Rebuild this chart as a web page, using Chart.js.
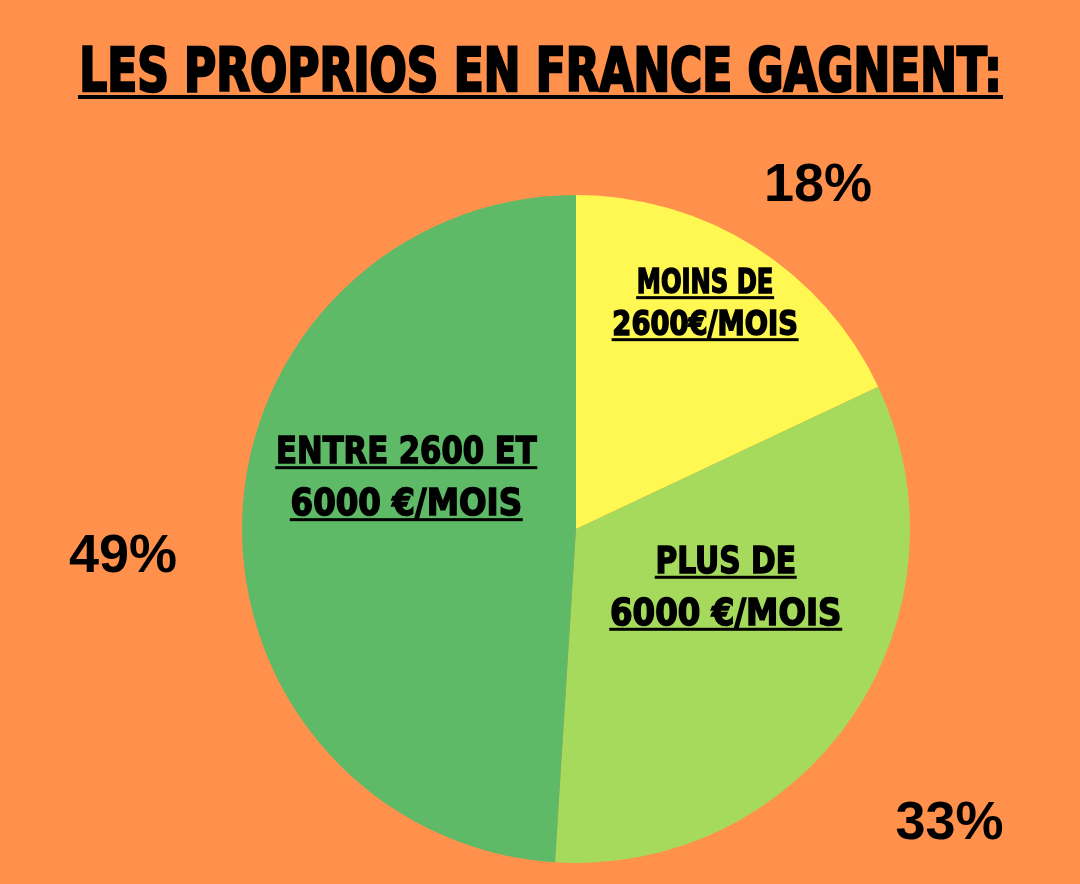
<!DOCTYPE html>
<html>
<head>
<meta charset="utf-8">
<script src="https://cdn.jsdelivr.net/npm/chart.js@4"></script>
<style>
  html, body { margin: 0; padding: 0; background: #FF914D; }
  #wrap { width: 1080px; height: 884px; position: relative; }
</style>
</head>
<body>
<div id="wrap"><canvas id="pie"></canvas></div>
<script>
// data
const titleText = "LES PROPRIOS EN FRANCE GAGNENT:";
const categories = [
  ["MOINS DE", "2600€/MOIS"],
  ["PLUS DE", "6000 €/MOIS"],
  ["ENTRE 2600 ET", "6000 €/MOIS"]
];
const shares = [18, 33, 49];
const sliceColors = ['#FFF852', '#A6DA5C', '#5EBA67'];

// where the texts sit relative to each slice (radius factor, angle shift in deg)
const innerLayout = [
  { r: 0.805, da: -3.7, size: 33, gap: 42, widths: [138, 187] },
  { r: 0.467, da: -17.9, size: 38, gap: 52, widths: [142, 233] },
  { r: 0.545, da: 19.4, size: 38, gap: 52, widths: [262, 233] }
];
const outerLayout = [
  { r: 1.257, da: 2.8 },
  { r: 1.425, da: 4.1 },
  { r: 1.359, da: -5.3 }
];

const blockFont = "'DejaVu Sans Condensed', 'DejaVu Sans', sans-serif";

function fitText(ctx, text, cx, baseY, size, width, lineW, heavy) {
  ctx.save();
  ctx.font = `bold ${size}px ${blockFont}`;
  const w = ctx.measureText(text).width;
  const sx = (width - heavy) / w;
  ctx.translate(cx, baseY);
  ctx.scale(sx, 1);
  ctx.textAlign = 'center';
  ctx.textBaseline = 'alphabetic';
  ctx.fillStyle = '#000';
  ctx.strokeStyle = '#000';
  ctx.lineJoin = 'miter';
  ctx.lineWidth = heavy;
  ctx.fillText(text, 0, 0);
  ctx.strokeText(text, 0, 0);
  ctx.restore();
  ctx.fillStyle = '#000';
  ctx.fillRect(cx - width / 2, baseY + lineW + 0.5, width, lineW + 0.5);
}

const labelPlugin = {
  id: 'labels',
  afterDraw(chart) {
    const ctx = chart.ctx;
    // title
    fitText(ctx, titleText, 540.5, 91, 60, 925, 3.5, 2.5);

    const meta = chart.getDatasetMeta(0);
    meta.data.forEach((arc, i) => {
      const mid = (arc.startAngle + arc.endAngle) / 2;
      const R = arc.outerRadius;

      const il = innerLayout[i];
      const a1 = mid + il.da * Math.PI / 180;
      const x1 = arc.x + R * il.r * Math.cos(a1);
      const y1 = arc.y + R * il.r * Math.sin(a1);
      categories[i].forEach((line, k) => {
        fitText(ctx, line, x1, y1 + k * il.gap, il.size, il.widths[k], 2.5, 1.5);
      });

      const ol = outerLayout[i];
      const a2 = mid + ol.da * Math.PI / 180;
      const x2 = arc.x + R * ol.r * Math.cos(a2);
      const y2 = arc.y + R * ol.r * Math.sin(a2);
      ctx.save();
      ctx.font = "bold 54px 'Liberation Sans', Arial, sans-serif";
      ctx.fillStyle = '#000';
      ctx.textAlign = 'center';
      ctx.textBaseline = 'middle';
      ctx.fillText(shares[i] + '%', x2, y2);
      ctx.restore();
    });
  }
};

new Chart(document.getElementById('pie'), {
  type: 'pie',
  data: {
    labels: categories.map(c => c.join(' ')),
    datasets: [{
      data: shares,
      backgroundColor: sliceColors,
      borderWidth: 0
    }]
  },
  options: {
    responsive: true,
    maintainAspectRatio: false,
    animation: false,
    layout: { padding: { top: 195, bottom: 21, left: 242, right: 170 } },
    plugins: {
      legend: { display: false },
      tooltip: { enabled: false }
    }
  },
  plugins: [labelPlugin]
});
</script>
</body>
</html>
